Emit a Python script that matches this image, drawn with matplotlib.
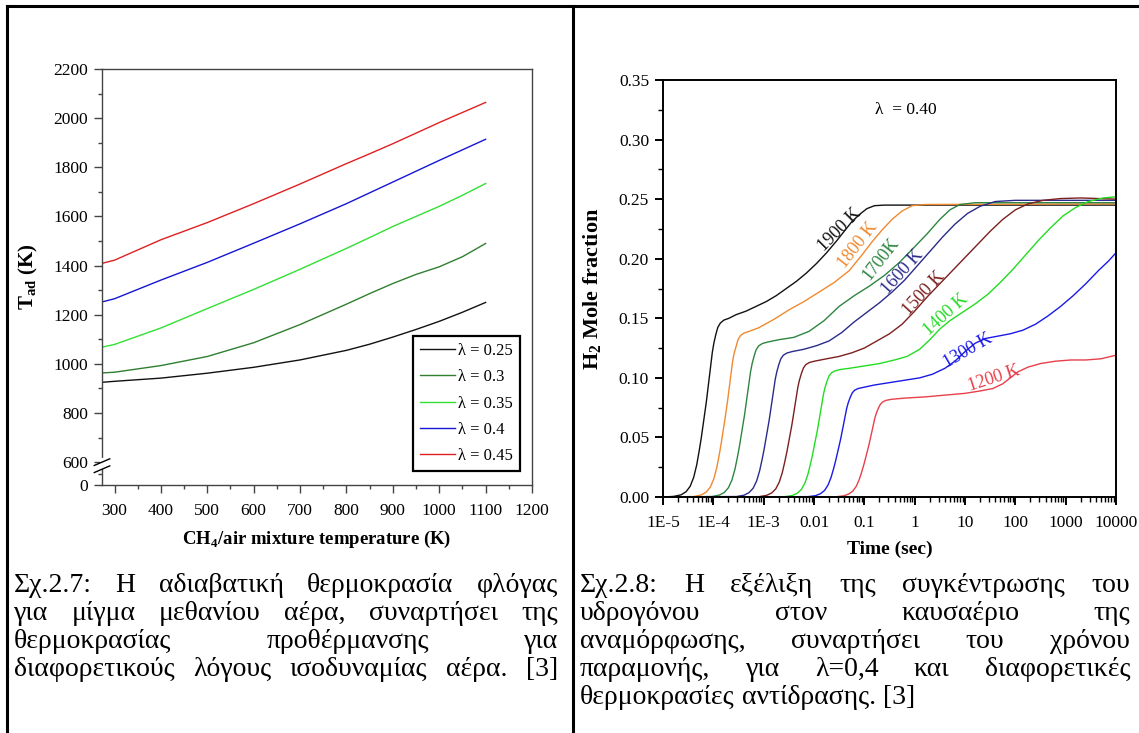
import matplotlib
matplotlib.use("Agg")
import numpy as np
import matplotlib.pyplot as plt
from matplotlib.lines import Line2D
from matplotlib.ticker import (FixedLocator, LogLocator, NullFormatter, MultipleLocator,
                               FixedFormatter, FormatStrFormatter)

plt.rcParams['font.family'] = ['Liberation Serif', 'DejaVu Serif']
plt.rcParams['mathtext.fontset'] = 'custom'
plt.rcParams['mathtext.rm'] = 'Liberation Serif'
plt.rcParams['mathtext.bf'] = 'Liberation Serif:bold'

# ---- left chart: adiabatic flame temperature ----
preheat_T = [273, 300, 400, 500, 600, 700, 800, 850, 900, 950, 1000, 1050, 1100]
tad_025 = [925, 929, 942, 962, 986, 1016, 1055, 1080, 1109, 1140, 1173, 1210, 1250]
tad_030 = [963, 966, 993, 1030, 1086, 1160, 1243, 1286, 1327, 1364, 1395, 1436, 1490]
tad_035 = [1068, 1079, 1146, 1225, 1303, 1385, 1470, 1514, 1559, 1600, 1641, 1686, 1734]
tad_040 = [1252, 1265, 1341, 1413, 1491, 1570, 1652, 1696, 1740, 1784, 1828, 1871, 1914]
tad_045 = [1409, 1422, 1505, 1575, 1652, 1732, 1815, 1855, 1896, 1939, 1982, 2023, 2064]
lambda_labels = ['λ = 0.25', 'λ = 0.3', 'λ = 0.35', 'λ = 0.4', 'λ = 0.45']
left_colors = ['#111111', '#2f7f2f', '#33e033', '#1515d5', '#e02020']

# ---- right chart: H2 mole fraction vs residence time (log10 of seconds) ----
lt_1900 = [-5.0, -4.79, -4.64, -4.54, -4.46, -4.39, -4.33, -4.28, -4.24, -4.20, -4.17, -4.14, -4.11,
           -4.08, -4.05, -4.02, -3.99, -3.95, -3.91, -3.86, -3.79, -3.69,
           -3.55, -3.35, -3.15, -2.95, -2.75, -2.55, -2.35, -2.15, -1.95, -1.75, -1.55, -1.4, -1.25,
           -1.1, -0.95, -0.8, -0.6, 4.0]
h2_1900 = [0.0, 0.0005, 0.0018, 0.0045, 0.009, 0.0165, 0.027, 0.039, 0.0495, 0.0615, 0.0705, 0.0795,
           0.090, 0.1005, 0.111, 0.1215, 0.129, 0.1365, 0.1425, 0.146, 0.1485, 0.150,
           0.153, 0.156, 0.160, 0.164, 0.169, 0.175, 0.181, 0.188, 0.196, 0.205, 0.215, 0.223, 0.231,
           0.237, 0.242, 0.2445, 0.245, 0.245]
lt_1800 = [-5.0, -4.39, -4.24, -4.14, -4.06, -3.99, -3.93, -3.88, -3.84, -3.80, -3.77, -3.74, -3.71,
           -3.68, -3.65, -3.62, -3.59, -3.55, -3.51, -3.46, -3.39, -3.29,
           -3.1, -2.8, -2.5, -2.2, -1.9, -1.6, -1.3, -1.05, -0.85, -0.65, -0.45, -0.25, -0.05, 0.2, 4.0]
h2_1800 = [0.0, 0.0004, 0.0017, 0.0042, 0.0083, 0.0153, 0.025, 0.036, 0.046, 0.057, 0.065, 0.074,
           0.083, 0.093, 0.103, 0.113, 0.120, 0.126, 0.132, 0.1355, 0.1376, 0.139,
           0.142, 0.149, 0.157, 0.164, 0.172, 0.180, 0.190, 0.203, 0.214, 0.224, 0.233, 0.240, 0.2445,
           0.2455, 0.246]
lt_1700 = [-5.0, -4.03, -3.88, -3.78, -3.70, -3.63, -3.57, -3.52, -3.48, -3.44, -3.41, -3.38, -3.35,
           -3.32, -3.29, -3.26, -3.23, -3.19, -3.15, -3.10, -3.03, -2.93,
           -2.7, -2.4, -2.1, -1.8, -1.5, -1.2, -0.9, -0.6, -0.3, 0.0, 0.25, 0.5, 0.7, 0.9, 1.2, 4.0]
h2_1700 = [0.0, 0.0004, 0.0016, 0.0039, 0.0078, 0.0143, 0.0234, 0.0338, 0.0429, 0.0533, 0.0611, 0.0689,
           0.078, 0.0871, 0.0962, 0.1053, 0.1118, 0.1183, 0.1235, 0.1268, 0.1287, 0.130,
           0.132, 0.134, 0.139, 0.148, 0.160, 0.169, 0.177, 0.186, 0.197, 0.210, 0.221, 0.233, 0.241,
           0.2455, 0.247, 0.247]
lt_1600 = [-5.0, -3.54, -3.39, -3.29, -3.21, -3.14, -3.08, -3.03, -2.99, -2.95, -2.92, -2.89, -2.86,
           -2.83, -2.80, -2.77, -2.74, -2.70, -2.66, -2.61, -2.54, -2.44,
           -2.2, -1.95, -1.7, -1.45, -1.2, -0.95, -0.7, -0.45, -0.2, 0.05, 0.3, 0.55, 0.8, 1.05, 1.3,
           1.6, 2.0, 4.0]
h2_1600 = [0.0, 0.0004, 0.0015, 0.0037, 0.0073, 0.0134, 0.022, 0.0317, 0.0403, 0.050, 0.0573, 0.0647,
           0.0732, 0.0817, 0.0903, 0.0988, 0.1049, 0.111, 0.1159, 0.119, 0.1208, 0.122,
           0.124, 0.127, 0.131, 0.138, 0.147, 0.155, 0.163, 0.172, 0.182, 0.194, 0.206, 0.218, 0.229,
           0.238, 0.244, 0.248, 0.249, 0.249]
lt_1500 = [-5.0, -3.09, -2.94, -2.84, -2.76, -2.69, -2.63, -2.58, -2.54, -2.50, -2.47, -2.44, -2.41,
           -2.38, -2.35, -2.32, -2.29, -2.25, -2.21, -2.16, -2.09, -1.99,
           -1.75, -1.5, -1.25, -1.0, -0.75, -0.5, -0.25, 0.0, 0.25, 0.5, 0.75, 1.0, 1.25, 1.5, 1.75,
           2.0, 2.25, 2.55, 2.9, 3.3, 4.0]
h2_1500 = [0.0, 0.0003, 0.0014, 0.0034, 0.0068, 0.0125, 0.0205, 0.0296, 0.0376, 0.0467, 0.0536, 0.0604,
           0.0684, 0.0764, 0.0844, 0.0923, 0.098, 0.1037, 0.1083, 0.1112, 0.1129, 0.114,
           0.116, 0.118, 0.121, 0.125, 0.131, 0.137, 0.145, 0.156, 0.168, 0.179, 0.190, 0.201, 0.212,
           0.223, 0.233, 0.241, 0.246, 0.249, 0.2505, 0.251, 0.250]
lt_1400 = [-5.0, -2.58, -2.43, -2.33, -2.25, -2.18, -2.12, -2.07, -2.03, -1.99, -1.96, -1.93, -1.90,
           -1.87, -1.84, -1.81, -1.78, -1.74, -1.70, -1.65, -1.58, -1.48,
           -1.3, -1.0, -0.7, -0.4, -0.15, 0.1, 0.3, 0.5, 0.7, 0.95, 1.2, 1.45, 1.7, 1.95, 2.2, 2.45,
           2.7, 2.95, 3.2, 3.45, 3.75, 4.0]
h2_1400 = [0.0, 0.0003, 0.0013, 0.0032, 0.0064, 0.0118, 0.0193, 0.0278, 0.0353, 0.0439, 0.0503, 0.0567,
           0.0642, 0.0717, 0.0792, 0.0867, 0.092, 0.0974, 0.1017, 0.1043, 0.1059, 0.107,
           0.108, 0.110, 0.112, 0.115, 0.118, 0.124, 0.132, 0.141, 0.148, 0.155, 0.162, 0.170, 0.180,
           0.191, 0.203, 0.215, 0.226, 0.236, 0.243, 0.248, 0.251, 0.252]
lt_1300 = [-5.0, -2.12, -1.97, -1.87, -1.79, -1.72, -1.66, -1.61, -1.57, -1.53, -1.50, -1.47, -1.44,
           -1.41, -1.38, -1.35, -1.32, -1.28, -1.24, -1.19, -1.12, -1.02,
           -0.8, -0.5, -0.2, 0.1, 0.35, 0.6, 0.8, 1.0, 1.2, 1.4, 1.65, 1.9, 2.15, 2.4, 2.65, 2.9, 3.15,
           3.4, 3.65, 3.85, 4.0]
h2_1300 = [0.0, 0.0003, 0.0011, 0.0028, 0.0055, 0.0101, 0.0166, 0.0239, 0.0304, 0.0377, 0.0432, 0.0488,
           0.0552, 0.0616, 0.0681, 0.0745, 0.0791, 0.0837, 0.0874, 0.0897, 0.0911, 0.092,
           0.094, 0.096, 0.098, 0.100, 0.103, 0.108, 0.114, 0.122, 0.129, 0.133, 0.135, 0.137, 0.140,
           0.145, 0.152, 0.160, 0.169, 0.179, 0.190, 0.198, 0.205]
lt_1200 = [-5.0, -1.56, -1.41, -1.31, -1.23, -1.16, -1.10, -1.05, -1.01, -0.97, -0.94, -0.91, -0.88,
           -0.85, -0.82, -0.79, -0.76, -0.72, -0.68, -0.63, -0.56, -0.46,
           -0.2, 0.2, 0.6, 1.0, 1.3, 1.55, 1.75, 1.9, 2.05, 2.25, 2.5, 2.8, 3.1, 3.4, 3.7, 4.0]
h2_1200 = [0.0, 0.0002, 0.001, 0.0025, 0.0049, 0.009, 0.0148, 0.0213, 0.0271, 0.0336, 0.0385, 0.0435,
           0.0492, 0.0549, 0.0607, 0.0664, 0.0705, 0.0746, 0.0779, 0.080, 0.0812, 0.082,
           0.083, 0.084, 0.0855, 0.087, 0.089, 0.091, 0.095, 0.100, 0.105, 0.109, 0.112, 0.114, 0.115,
           0.115, 0.116, 0.119]

temp_labels = ['1900 K', '1800 K', '1700K', '1600 K', '1500 K', '1400 K', '1300 K', '1200 K']
right_colors = ['#111111', '#f08a30', '#2e8540', '#2b2b8c', '#7b1f1f', '#22dd22', '#1a1ae6', '#e8404a']
label_lt = [-1.48, -1.12, -0.68, -0.25, 0.18, 0.62, 1.05, 1.58]
label_h2 = [0.224, 0.2116, 0.200, 0.189, 0.171, 0.153, 0.123, 0.0995]
label_rot = [45, 52, 52, 48, 47, 42, 30, 18]
time_ticklabels = ['1E-5', '1E-4', '1E-3', '0.01', '0.1', '1', '10', '100', '1000', '10000']

caption_left = ["Σχ.2.7: Η αδιαβατική θερμοκρασία φλόγας",
                "για μίγμα μεθανίου  αέρα, συναρτήσει της",
                "θερμοκρασίας προθέρμανσης για",
                "διαφορετικούς λόγους ισοδυναμίας αέρα. [3]"]
caption_right = ["Σχ.2.8: Η εξέλιξη της συγκέντρωσης του",
                 "υδρογόνου στον καυσαέριο της",
                 "αναμόρφωσης, συναρτήσει του χρόνου",
                 "παραμονής, για λ=0,4 και διαφορετικές",
                 "θερμοκρασίες αντίδρασης. [3]"]

W, H = 1139, 733
fig = plt.figure(figsize=(W / 100, H / 100), dpi=100)


def fx(px):
    return px / W


def fy(py):
    return 1 - py / H


# table borders
for xs, ys in [([7, 1137], [6, 6]), ([7, 7], [6, 733]), ([573, 573], [6, 733])]:
    fig.add_artist(Line2D([fx(v) for v in xs], [fy(v) for v in ys], transform=fig.transFigure,
                          color='black', lw=2.2))

# ---------------- left chart ----------------
ax1 = fig.add_axes([fx(102), fy(485), fx(532) - fx(102), fy(69) - fy(485)])
y_zero = 507  # broken axis: the "0" tick sits just below 600
for vals, lab, col in zip([tad_025, tad_030, tad_035, tad_040, tad_045], lambda_labels, left_colors):
    ax1.plot(preheat_T, vals, color=col, lw=1.0, label=lab)
ax1.set_xlim(273, 1200)
ax1.set_ylim(y_zero, 2200)
ax1.xaxis.set_major_locator(MultipleLocator(100))
ax1.xaxis.set_minor_locator(MultipleLocator(50))
yt = [y_zero] + list(range(600, 2201, 200))
ax1.yaxis.set_major_locator(FixedLocator(yt))
ax1.yaxis.set_major_formatter(FixedFormatter(['0'] + [str(v) for v in range(600, 2201, 200)]))
ax1.yaxis.set_minor_locator(FixedLocator([(y_zero + 600) / 2] + list(range(700, 2200, 200))))
for sp in ax1.spines.values():
    sp.set_color('#444444')
    sp.set_linewidth(1.0)
ax1.tick_params(which='both', direction='out', color='#444444', top=False, right=False)
ax1.tick_params(which='major', length=6, width=1.0, labelsize=12.5)
ax1.tick_params(axis='x', which='major', pad=7)
ax1.tick_params(axis='y', which='major', pad=4)
ax1.tick_params(which='minor', length=3, width=1.0)
ax1.set_ylabel(r'T$_\mathbf{ad}$ (K)', fontsize=15, fontweight='bold')
ax1.yaxis.set_label_coords(-0.144, 0.5)
ax1.set_xlabel(r'CH$_\mathbf{4}$/air mixture temperature (K)', fontsize=13.5, fontweight='bold', labelpad=7)

# break marks on the y axis
yb = (600 - y_zero) / (2200 - y_zero)
ax1.plot([0, 0], [yb - 0.012, yb + 0.004], transform=ax1.transAxes, color='white', lw=3,
         clip_on=False, zorder=5)
for off in (-0.017, 0.0):
    ax1.plot([-0.018, 0.018], [yb + off - 0.008, yb + off + 0.008], transform=ax1.transAxes,
             color='black', lw=1.0, clip_on=False, zorder=6)

leg = ax1.legend(loc='lower right', bbox_to_anchor=(0.971, 0.034), borderaxespad=0,
                 fontsize=12, handlelength=2.1, handletextpad=0.2, labelspacing=0.62,
                 fancybox=False, framealpha=1, borderpad=0.4)
leg.get_frame().set_edgecolor('black')
leg.get_frame().set_linewidth(1.6)

# ---------------- right chart ----------------
ax2 = fig.add_axes([fx(663), fy(497), fx(1116) - fx(663), fy(80) - fy(497)])
series = [(lt_1900, h2_1900), (lt_1800, h2_1800), (lt_1700, h2_1700), (lt_1600, h2_1600),
          (lt_1500, h2_1500), (lt_1400, h2_1400), (lt_1300, h2_1300), (lt_1200, h2_1200)]
for (lt, h2), col in zip(series, right_colors):
    ax2.plot(10.0 ** np.array(lt), h2, color=col, lw=1.0)
for lab, col, lx, ly, rot in zip(temp_labels, right_colors, label_lt, label_h2, label_rot):
    ax2.text(10.0 ** lx, ly, lab, color=col, fontsize=13, rotation=rot, ha='center', va='center',
             rotation_mode='anchor')
ax2.set_xscale('log')
ax2.set_xlim(1e-5, 1e4)
ax2.set_ylim(0, 0.35)
ax2.xaxis.set_major_locator(FixedLocator([10.0 ** k for k in range(-5, 5)]))
ax2.xaxis.set_major_formatter(FixedFormatter(time_ticklabels))
ax2.xaxis.set_minor_locator(LogLocator(base=10, subs=np.arange(2, 10), numticks=20))
ax2.xaxis.set_minor_formatter(NullFormatter())
ax2.yaxis.set_major_locator(MultipleLocator(0.05))
ax2.yaxis.set_minor_locator(MultipleLocator(0.025))
ax2.yaxis.set_major_formatter(FormatStrFormatter('%.2f'))
for sp in ax2.spines.values():
    sp.set_color('black')
    sp.set_linewidth(1.4)
ax2.tick_params(which='both', direction='out', top=False, right=False)
ax2.tick_params(which='major', length=6, width=1.4, labelsize=12.5)
ax2.tick_params(axis='x', which='major', pad=7)
ax2.tick_params(axis='y', which='major', pad=4)
ax2.tick_params(which='minor', length=3.5, width=1.0)
ax2.set_ylabel(r'H$_\mathbf{2}$ Mole fraction', fontsize=16, fontweight='bold')
ax2.yaxis.set_label_coords(-0.130, 0.5)
ax2.set_xlabel('Time (sec)', fontsize=14, fontweight='bold', labelpad=7)
ax2.text(0.536, 0.929, 'λ  = 0.40', transform=ax2.transAxes, ha='center', va='center', fontsize=12.5)

# ---------------- captions (justified) ----------------
renderer = fig.canvas.get_renderer()
CAP_FS = 20


def caption_line(text, x0, x1, ybase, justify=True):
    words = text.split()
    arts = [fig.text(0, fy(ybase), w, fontsize=CAP_FS, va='baseline', ha='left') for w in words]
    widths = [a.get_window_extent(renderer).width for a in arts]
    if justify and len(words) > 1:
        gap = (x1 - x0 - sum(widths)) / (len(words) - 1)
    else:
        gap = CAP_FS * 0.25 * 100 / 72
    x = x0
    for a, w in zip(arts, widths):
        a.set_x(fx(x))
        x += w + gap


for i, line in enumerate(caption_left):
    caption_line(line, 14, 558, 592 + 28 * i)
for i, line in enumerate(caption_right):
    caption_line(line, 580, 1130, 592 + 28 * i, justify=(i < len(caption_right) - 1))

fig.savefig('out.png', dpi=100)
